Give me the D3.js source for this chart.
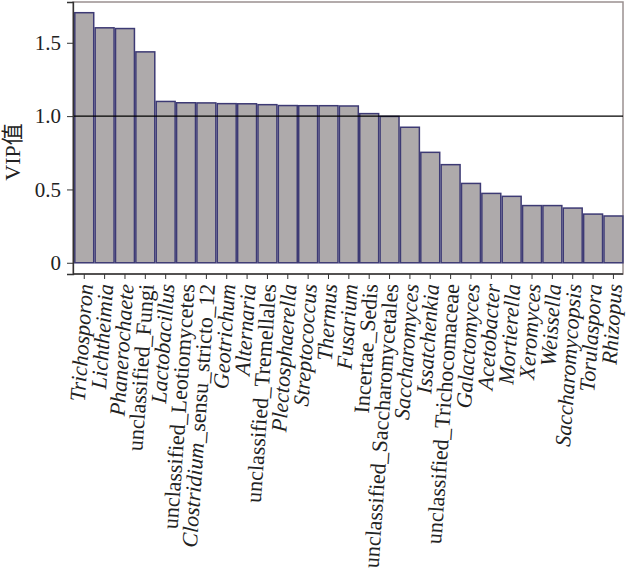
<!DOCTYPE html>
<html>
<head>
<meta charset="utf-8">
<script src="https://cdn.jsdelivr.net/npm/d3@7"></script>
<style>
body { margin: 0; background: #fff; }
text { font-family: "Liberation Serif", "Noto Sans CJK SC", serif; fill: #222; }
</style>
</head>
<body>
<script>
// genus names, in order of the bars
var genera = ["Trichosporon","Lichtheimia","Phanerochaete","unclassified_Fungi","Lactobacillus",
  "unclassified_Leotiomycetes","Clostridium_sensu_stricto_12","Geotrichum","Alternaria",
  "unclassified_Tremellales","Plectosphaerella","Streptococcus","Thermus","Fusarium",
  "Incertae_Sedis","unclassified_Saccharomycetales","Saccharomyces","Issatchenkia",
  "unclassified_Trichocomaceae","Galactomyces","Acetobacter","Mortierella","Xeromyces",
  "Weissella","Saccharomycopsis","Torulaspora","Rhizopus"];
var vip = [1.705,1.602,1.597,1.438,1.100,1.091,1.090,1.085,1.084,1.078,1.072,1.071,1.071,1.069,
  1.017,0.998,0.924,0.753,0.669,0.541,0.473,0.453,0.390,0.390,0.373,0.332,0.319];
var yTicks = [0, 0.5, 1.0, 1.5];
var yTickLabels = ["0", "0.5", "1.0", "1.5"];

var w = 626, h = 579;
var pLeft = 73, pRight = 623, pTop = 2, pBottom = 274;

var svg = d3.select("body").append("svg")
  .attr("width", w)
  .attr("height", h);

var x = d3.scaleBand()
  .domain(genera)
  .range([74.8, 622.9])
  .paddingInner(0.07)
  .paddingOuter(0);

var y = d3.scaleLinear()
  .domain([-0.0765, 1.778])
  .range([pBottom, pTop]);

// panel border
svg.append("rect")
  .attr("x", pLeft).attr("y", pTop)
  .attr("width", pRight - pLeft).attr("height", pBottom - pTop)
  .attr("fill", "none")
  .attr("stroke", "#9a9090")
  .attr("stroke-width", 1.5);

svg.selectAll("rect.bar")
  .data(vip)
  .enter()
  .append("rect")
  .attr("class", "bar")
  .attr("x", function(d, i) { return x(genera[i]); })
  .attr("y", function(d) { return y(d); })
  .attr("width", x.bandwidth())
  .attr("height", function(d) { return y(0) - y(d); })
  .attr("fill", "#aeaaab")
  .attr("stroke", "#3d3a74")
  .attr("stroke-width", 1.5);

// reference line at VIP = 1
svg.append("line")
  .attr("x1", pLeft).attr("x2", pRight)
  .attr("y1", y(1)).attr("y2", y(1))
  .attr("stroke", "#000")
  .attr("stroke-width", 1.3);

// y axis
var yAxis = d3.axisLeft(y)
  .tickValues(yTicks)
  .tickFormat(function(d, i) { return yTickLabels[i]; })
  .tickSize(6)
  .tickPadding(6);
var gy = svg.append("g")
  .attr("transform", "translate(" + pLeft + ",0)")
  .call(yAxis);
gy.select(".domain").attr("stroke", "#333").attr("stroke-width", 1.3);
gy.selectAll(".tick line").attr("stroke", "#333");
gy.selectAll(".tick text")
  .style("font-family", "Liberation Serif")
  .style("font-size", "21px")
  .attr("fill", "#222");

// x axis
var xAxis = d3.axisBottom(x).tickSize(5).tickFormat("");
var gx = svg.append("g")
  .attr("transform", "translate(0," + pBottom + ")")
  .call(xAxis);
gx.select(".domain").attr("d", "M" + pLeft + ",0H" + pRight).attr("stroke", "#333").attr("stroke-width", 1.3);
gx.selectAll(".tick line").attr("stroke", "#333");

// rotated x labels, italic for genus names
var labels = svg.selectAll("text.xlab")
  .data(genera)
  .enter()
  .append("text")
  .attr("class", "xlab")
  .attr("text-anchor", "end")
  .attr("transform", function(d) {
    return "translate(" + (x(d) + x.bandwidth() / 2 + 1) + "," + (pBottom + 10) + ") rotate(-86)";
  })
  .attr("dy", "0.35em")
  .style("font-size", "22px");

labels.each(function(d) {
  var t = d3.select(this);
  if (d.indexOf("unclassified_") === 0 || d === "Incertae_Sedis") {
    t.append("tspan").text(d);
  } else if (d.indexOf("Clostridium") === 0) {
    t.append("tspan").style("font-style", "italic").text("Clostridium");
    t.append("tspan").text("_sensu_stricto_12");
  } else {
    t.append("tspan").style("font-style", "italic").text(d);
  }
});

// y axis title
svg.append("text")
  .attr("transform", "translate(20,152) rotate(-90)")
  .attr("text-anchor", "middle")
  .style("font-size", "22px")
  .text("VIP值");
</script>
</body>
</html>
